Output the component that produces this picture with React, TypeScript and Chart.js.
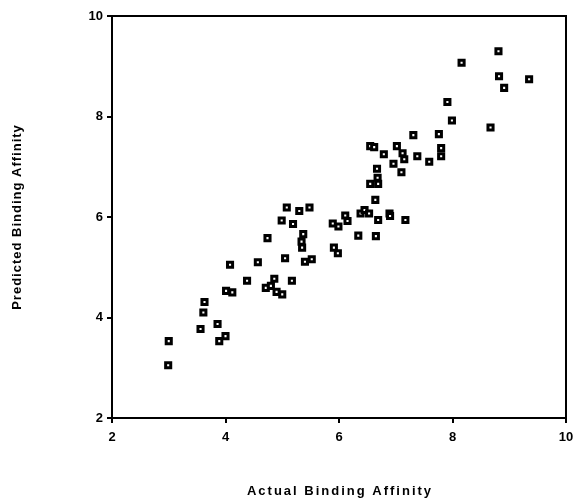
import React, { useEffect, useRef } from "react";
import { Chart, registerables } from "chart.js";

Chart.register(...registerables);

const actualAffinity: number[] = [
  3.0, 2.99, 3.63, 3.61, 3.56, 3.86, 3.89, 4.0, 4.08, 4.01, 4.12, 4.38, 4.57, 4.74, 4.71,
  4.8, 4.86, 4.9, 5.0, 5.17, 4.99, 5.05, 5.19, 5.37, 5.34, 5.35, 5.4, 5.52, 5.08, 5.3,
  5.48, 5.89, 5.99, 5.91, 5.98, 6.11, 6.15, 6.38, 6.45, 6.53, 6.69, 6.89, 6.9, 7.17, 6.34,
  6.65, 6.64, 6.67, 6.96, 7.1, 6.68, 6.69, 6.55, 6.55, 6.62, 6.79, 7.02, 7.12, 7.15, 7.38,
  7.59, 7.8, 7.8, 7.31, 7.76, 7.91, 7.99, 8.67, 8.81, 8.16, 8.82, 9.35, 8.91,
];

const predictedAffinity: number[] = [
  3.53, 3.05, 4.31, 4.1, 3.77, 3.87, 3.53, 3.63, 5.05, 4.53, 4.5, 4.73, 5.1, 5.58, 4.59,
  4.63, 4.77, 4.51, 4.46, 4.73, 5.93, 5.18, 5.86, 5.66, 5.51, 5.39, 5.11, 5.16, 6.19, 6.12,
  6.19, 5.87, 5.81, 5.39, 5.28, 6.03, 5.92, 6.07, 6.14, 6.07, 5.94, 6.07, 6.02, 5.94, 5.63,
  5.62, 6.34, 6.96, 7.06, 6.89, 6.78, 6.66, 6.66, 7.41, 7.39, 7.25, 7.41, 7.27, 7.15, 7.21,
  7.1, 7.37, 7.21, 7.63, 7.65, 8.29, 7.92, 7.78, 9.3, 9.07, 8.8, 8.74, 8.57,
];

const tickValues: number[] = [2, 4, 6, 8, 10];
const xTitle = "Actual Binding Affinity";
const yTitle = "Predicted Binding Affinity";

const FONT = '"Liberation Sans", Arial, sans-serif';

const framePlugin = {
  id: "frameAndTitles",
  afterDraw(chart: any) {
    const { ctx, chartArea } = chart;
    ctx.save();
    ctx.strokeStyle = "#000";
    ctx.lineWidth = 2;
    ctx.beginPath();
    ctx.moveTo(chartArea.left, chartArea.top);
    ctx.lineTo(chartArea.right, chartArea.top);
    ctx.lineTo(chartArea.right, chartArea.bottom);
    ctx.stroke();

    ctx.fillStyle = "#000";
    ctx.font = `bold 13px ${FONT}`;
    ctx.textAlign = "center";
    ctx.textBaseline = "middle";
    (ctx as any).letterSpacing = "2px";
    const cx = (chartArea.left + chartArea.right) / 2;
    ctx.fillText(xTitle, cx + 1, 491);
    ctx.translate(17, (chartArea.top + chartArea.bottom) / 2);
    ctx.rotate(-Math.PI / 2);
    (ctx as any).letterSpacing = "1px";
    ctx.fillText(yTitle, 0, 0);
    ctx.restore();
  },
};

export default function App() {
  const ref = useRef<HTMLCanvasElement | null>(null);

  useEffect(() => {
    if (!ref.current) return;
    const data = actualAffinity.map((x, i) => ({ x, y: predictedAffinity[i] }));
    const chart = new Chart(ref.current, {
      type: "scatter",
      data: {
        datasets: [
          {
            data,
            pointStyle: "rect",
            pointRadius: 3.6,
            pointBorderWidth: 3,
            pointBorderColor: "#000",
            pointBackgroundColor: "#fff",
          },
        ],
      },
      options: {
        responsive: false,
        animation: false,
        layout: { autoPadding: false, padding: { top: 16, right: 11, left: 0, bottom: 0 } },
        plugins: { legend: { display: false }, tooltip: { enabled: false } },
        scales: {
          x: {
            type: "linear",
            min: 2,
            max: 10,
            afterBuildTicks: (s: any) => {
              s.ticks = tickValues.map((v) => ({ value: v }));
            },
            afterFit: (s: any) => {
              s.height = 81;
              s.paddingLeft = 0;
              s.paddingRight = 0;
            },
            border: { display: true, color: "#000", width: 2 },
            grid: {
              drawOnChartArea: false,
              drawTicks: true,
              tickLength: 5,
              color: "#000",
              lineWidth: 2,
            },
            ticks: {
              color: "#000",
              padding: 7,
              font: { family: FONT, size: 13, weight: "bold" },
              maxRotation: 0,
            },
          },
          y: {
            type: "linear",
            min: 2,
            max: 10,
            afterBuildTicks: (s: any) => {
              s.ticks = tickValues.map((v) => ({ value: v }));
            },
            afterFit: (s: any) => {
              s.width = 112;
              s.paddingTop = 0;
              s.paddingBottom = 0;
            },
            border: { display: true, color: "#000", width: 2 },
            grid: {
              drawOnChartArea: false,
              drawTicks: true,
              tickLength: 5,
              color: "#000",
              lineWidth: 2,
            },
            ticks: {
              color: "#000",
              padding: 4,
              font: { family: FONT, size: 13, weight: "bold" },
            },
          },
        },
      },
      plugins: [framePlugin],
    });
    return () => chart.destroy();
  }, []);

  return (
    <div style={{ position: "fixed", left: 0, top: 0, width: 577, height: 499, background: "#fff" }}>
      <canvas ref={ref} width={577} height={499} />
    </div>
  );
}
